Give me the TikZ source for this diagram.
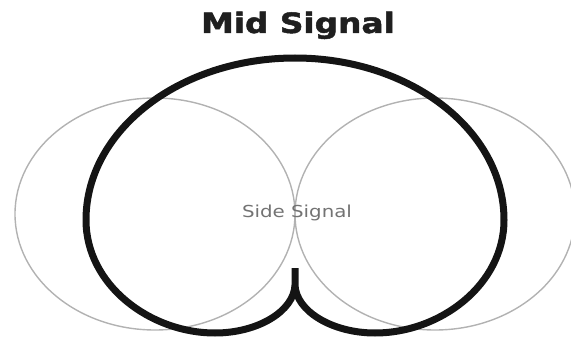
\documentclass[tikz,border=0pt]{standalone}
\usepackage{fontspec}
\setmainfont{DejaVu Sans}
\newfontfamily\headfont[FakeBold=1.6]{DejaVu Sans Bold}

\begin{document}
\begin{tikzpicture}[x=1pt,y=-1pt,
    side lobe/.style={draw=black!30, line width=1.4pt},
    mid lobe/.style={draw=black!92, line width=7pt, line join=round},
    title/.style={anchor=base, inner sep=0pt, text=black!88,
        font=\fontsize{28}{30}\headfont},
    side label/.style={anchor=base, inner sep=0pt, text=black!55,
        font=\fontsize{16.5}{18}\selectfont}]
    \useasboundingbox (0,0) rectangle (571,337);

    % centres of the two side lobes
        \coordinate (L) at (155,214);
        \coordinate (R) at (435,214);

    % side signal: figure of eight
        \draw[side lobe] (L) ellipse [x radius=140, y radius=116];
        \draw[side lobe] (R) ellipse [x radius=140, y radius=116];

    % mid signal: cardioid, cusp at the bottom
        \coordinate (cusp) at (295,268);
        \coordinate (top) at (295,58);
        \draw[mid lobe] (cusp) -- (295,285)
            .. controls (296,311) and (332,333) .. (375,333)
            .. controls (440,333) and (504,285) .. (504,220)
            .. controls (504,130) and (410,58) .. (top)
            .. controls (180,58) and (86,130) .. (86,220)
            .. controls (86,285) and (150,333) .. (215,333)
            .. controls (258,333) and (294,311) .. (295,285) -- (cusp);

    % labels
        \node[title] (title) at (298,33) {\scalebox{1.17}[1]{Mid Signal}};
        \node[side label] (side) at (297,217) {\scalebox{1.2}[1]{Side Signal}};

\end{tikzpicture}
\end{document}
